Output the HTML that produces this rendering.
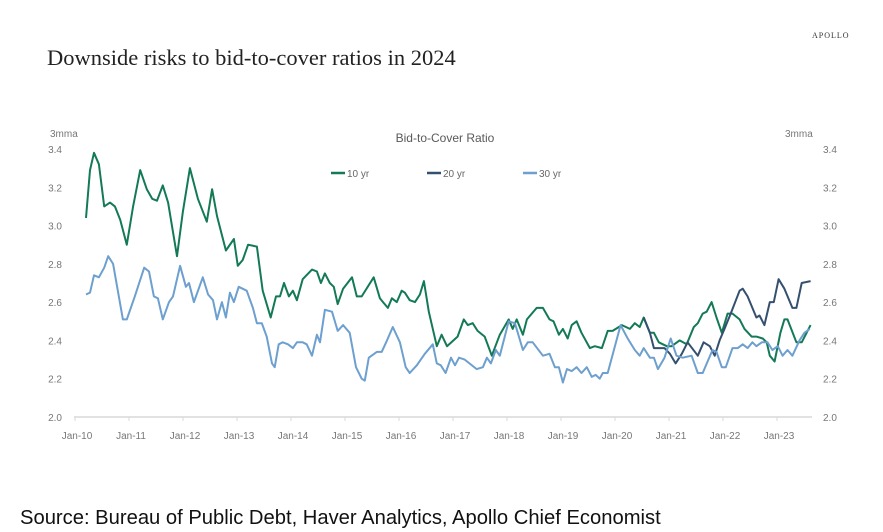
<!DOCTYPE html>
<html><head><meta charset="utf-8"><style>
html,body{margin:0;padding:0;background:#fff;}
body{width:883px;height:532px;overflow:hidden;position:relative;}
svg{position:absolute;left:0;top:0;}
</style></head><body>
<svg id="chart" width="883" height="532" viewBox="0 0 883 532">
<text x="812" y="38" font-family="Liberation Serif, serif" font-size="8" letter-spacing="1" fill="#333">APOLLO</text>
<text x="47" y="65" font-family="Liberation Serif, serif" font-size="22.5" fill="#222">Downside risks to bid-to-cover ratios in 2024</text>
<text x="445" y="142" text-anchor="middle" font-family="Liberation Sans, sans-serif" font-size="12" fill="#595959">Bid-to-Cover Ratio</text>
<text x="50" y="137" font-family="Liberation Sans, sans-serif" font-size="10" fill="#777">3mma</text>
<text x="785" y="137" font-family="Liberation Sans, sans-serif" font-size="10" fill="#777">3mma</text>
<g>
<line x1="331" y1="173" x2="345" y2="173" stroke="#137a55" stroke-width="2.5"/>
<text x="347" y="177" font-family="Liberation Sans, sans-serif" font-size="10" fill="#666">10 yr</text>
<line x1="427" y1="173" x2="441" y2="173" stroke="#34506e" stroke-width="2.5"/>
<text x="443" y="177" font-family="Liberation Sans, sans-serif" font-size="10" fill="#666">20 yr</text>
<line x1="523" y1="173" x2="537" y2="173" stroke="#6d9fcf" stroke-width="2.5"/>
<text x="539" y="177" font-family="Liberation Sans, sans-serif" font-size="10" fill="#666">30 yr</text>
</g>
<g id="axes"></g>
<g id="series"></g>
<text x="20" y="524" font-family="Liberation Sans, sans-serif" font-size="20.2" fill="#111">Source: Bureau of Public Debt, Haver Analytics, Apollo Chief Economist</text>
</svg>
<script>
// t = months since first observation, v = bid-to-cover ratio (3mma)
const tenYr = [[0,3.04],[0.9,3.29],[1.8,3.38],[2.9,3.32],[4.1,3.10],[5.4,3.12],[6.5,3.10],[7.7,3.03],[9.2,2.90],[10.6,3.10],[12.2,3.29],[13.7,3.19],[14.9,3.14],[16.0,3.13],[17.3,3.21],[18.5,3.12],[20.5,2.84],[21.8,3.07],[23.4,3.30],[25.2,3.14],[27.2,3.02],[28.4,3.19],[29.5,3.05],[31.5,2.87],[33.3,2.93],[34.2,2.79],[35.3,2.82],[36.5,2.90],[38.5,2.89],[39.8,2.66],[41.6,2.52],[42.8,2.63],[43.7,2.63],[44.6,2.70],[45.7,2.63],[46.6,2.66],[47.5,2.61],[48.8,2.72],[50.9,2.77],[52.0,2.76],[52.9,2.70],[53.8,2.75],[54.9,2.70],[55.8,2.68],[56.7,2.59],[57.9,2.67],[59.9,2.73],[61.0,2.63],[62.1,2.63],[64.8,2.73],[66.2,2.62],[66.9,2.60],[68.0,2.57],[68.9,2.62],[70.0,2.60],[71.1,2.66],[71.8,2.65],[72.9,2.61],[74.1,2.60],[75.2,2.64],[76.1,2.71],[77.2,2.55],[79.0,2.37],[80.1,2.43],[81.3,2.37],[83.7,2.42],[85.1,2.51],[86.0,2.48],[87.1,2.49],[88.2,2.45],[89.8,2.42],[91.4,2.32],[93.2,2.43],[95.2,2.51],[96.1,2.46],[97.0,2.51],[98.4,2.43],[99.3,2.51],[101.5,2.57],[102.9,2.57],[104.4,2.51],[105.3,2.50],[106.5,2.43],[107.4,2.46],[108.5,2.41],[109.4,2.48],[110.5,2.50],[111.6,2.44],[113.5,2.36],[114.6,2.37],[116.2,2.36],[117.5,2.45],[118.6,2.45],[120.7,2.48],[122.5,2.46],[123.6,2.49],[124.7,2.47],[125.6,2.52],[127.0,2.44],[127.9,2.44],[129.0,2.39],[130.8,2.37],[131.9,2.37],[133.7,2.40],[135.3,2.38],[136.9,2.47],[137.8,2.49],[138.9,2.54],[139.8,2.55],[140.9,2.60],[142.0,2.52],[143.2,2.44],[144.5,2.54],[145.6,2.54],[147.2,2.51],[148.3,2.46],[149.9,2.42],[151.0,2.42],[152.4,2.41],[153.3,2.39],[154.0,2.32],[155.1,2.29],[156.4,2.44],[157.3,2.51],[158.0,2.51],[160.0,2.39],[161.2,2.39],[163.2,2.48]];
const twentyYr = [[125.6,2.52],[127.0,2.44],[127.9,2.36],[130.3,2.36],[131.5,2.33],[132.8,2.28],[134.2,2.33],[135.5,2.39],[137.8,2.32],[139.1,2.39],[140.5,2.37],[141.6,2.32],[142.7,2.40],[143.8,2.46],[145.2,2.54],[147.2,2.66],[147.9,2.67],[149.0,2.63],[151.0,2.52],[151.7,2.53],[152.8,2.48],[154.0,2.60],[154.9,2.60],[156.0,2.72],[157.3,2.67],[159.1,2.57],[160.0,2.57],[161.2,2.70],[163.2,2.71]];
const thirtyYr = [[0,2.64],[0.9,2.65],[1.8,2.74],[2.9,2.73],[4.1,2.78],[5.0,2.84],[6.1,2.80],[8.3,2.51],[9.2,2.51],[11.0,2.63],[13.1,2.78],[14.2,2.76],[15.3,2.63],[16.2,2.62],[17.3,2.51],[18.7,2.60],[19.6,2.63],[21.2,2.79],[22.5,2.68],[23.2,2.70],[24.3,2.60],[26.3,2.73],[27.5,2.64],[28.6,2.61],[29.5,2.51],[30.6,2.60],[31.5,2.52],[32.4,2.65],[33.3,2.60],[34.4,2.68],[36.2,2.66],[37.6,2.57],[38.5,2.49],[39.6,2.49],[40.7,2.42],[41.9,2.28],[42.5,2.26],[43.4,2.38],[44.3,2.39],[45.5,2.38],[46.6,2.36],[47.5,2.39],[48.8,2.39],[49.7,2.38],[50.9,2.32],[52.0,2.43],[52.7,2.39],[53.8,2.56],[55.4,2.55],[56.7,2.45],[57.9,2.48],[59.4,2.44],[60.8,2.26],[62.1,2.20],[62.8,2.19],[63.7,2.31],[65.5,2.34],[66.6,2.34],[67.8,2.40],[69.1,2.47],[70.7,2.39],[72.0,2.26],[72.9,2.23],[74.5,2.27],[76.3,2.33],[78.1,2.38],[79.0,2.28],[79.9,2.27],[81.0,2.23],[82.2,2.31],[83.1,2.27],[84.0,2.31],[85.3,2.30],[88.0,2.25],[89.4,2.26],[90.3,2.31],[91.2,2.28],[92.3,2.35],[93.2,2.32],[95.2,2.50],[96.6,2.49],[98.4,2.35],[99.5,2.39],[100.6,2.39],[102.9,2.32],[104.4,2.33],[105.6,2.26],[106.5,2.26],[107.4,2.18],[108.3,2.25],[109.4,2.24],[110.5,2.26],[111.6,2.23],[112.8,2.26],[113.9,2.21],[114.8,2.22],[115.7,2.20],[116.4,2.23],[117.5,2.23],[120.4,2.48],[122.0,2.41],[123.6,2.35],[124.7,2.32],[125.6,2.36],[127.0,2.31],[127.9,2.31],[128.8,2.25],[130.3,2.31],[131.7,2.41],[133.0,2.32],[134.4,2.31],[136.4,2.32],[137.8,2.23],[138.9,2.23],[141.1,2.35],[142.0,2.34],[143.2,2.26],[144.1,2.26],[145.6,2.36],[146.8,2.36],[147.9,2.38],[149.0,2.36],[150.1,2.39],[151.0,2.37],[152.2,2.39],[153.5,2.39],[154.6,2.35],[155.8,2.37],[156.9,2.32],[158.0,2.35],[159.1,2.32],[160.7,2.40],[161.8,2.44],[163.0,2.46]];
const yTicks = [2.0,2.2,2.4,2.6,2.8,3.0,3.2,3.4];
const xTickLabels = ["Jan-10","Jan-11","Jan-12","Jan-13","Jan-14","Jan-15","Jan-16","Jan-17","Jan-18","Jan-19","Jan-20","Jan-21","Jan-22","Jan-23"];

const NS = "http://www.w3.org/2000/svg";
function xScale(t){ return 86 + t * 4.44; }
function xTick(i){ return 75 + i * 54; }
function yScale(v){ return 417 - (v - 2.0) / 1.4 * 268; }
function mk(tag, attrs, parent){
  const el = document.createElementNS(NS, tag);
  for (const k in attrs) el.setAttribute(k, attrs[k]);
  parent.appendChild(el);
  return el;
}
const axes = document.getElementById("axes");
const base = mk("line", {x1:74, x2:812, y1:yScale(2.0), y2:yScale(2.0), stroke:"#d9d9d9", "stroke-width":1.5}, axes);


yTicks.forEach(v => {
  const l = mk("text", {x:62, y:yScale(v)+4, "text-anchor":"end", "font-family":"Liberation Sans, sans-serif", "font-size":10, fill:"#777"}, axes);
  l.textContent = v.toFixed(1);
  
  
  const r = mk("text", {x:823, y:yScale(v)+4, "font-family":"Liberation Sans, sans-serif", "font-size":10, fill:"#777"}, axes);
  r.textContent = v.toFixed(1);
  
  
});
xTickLabels.forEach((lab, i) => {
  const tk = mk("line", {x1:xTick(i), x2:xTick(i), y1:417, y2:421, stroke:"#d9d9d9", "stroke-width":1}, axes);
  
  
  const t = mk("text", {x:xTick(i)+2, y:439, "text-anchor":"middle", "font-family":"Liberation Sans, sans-serif", "font-size":10, fill:"#777"}, axes);
  t.textContent = lab;
  
  
});
const series = document.getElementById("series");
function draw(data, color, name){
  const d = data.map((p, i) => (i ? "L" : "M") + xScale(p[0]).toFixed(1) + "," + yScale(p[1]).toFixed(1)).join("");
  const path = mk("path", {d:d, fill:"none", stroke:color, "stroke-width":2, "stroke-linejoin":"round"}, series);
  
  
}
draw(tenYr, "#137a55", "line-10yr");
draw(twentyYr, "#34506e", "line-20yr");
draw(thirtyYr, "#6d9fcf", "line-30yr");
</script>
</body></html>
